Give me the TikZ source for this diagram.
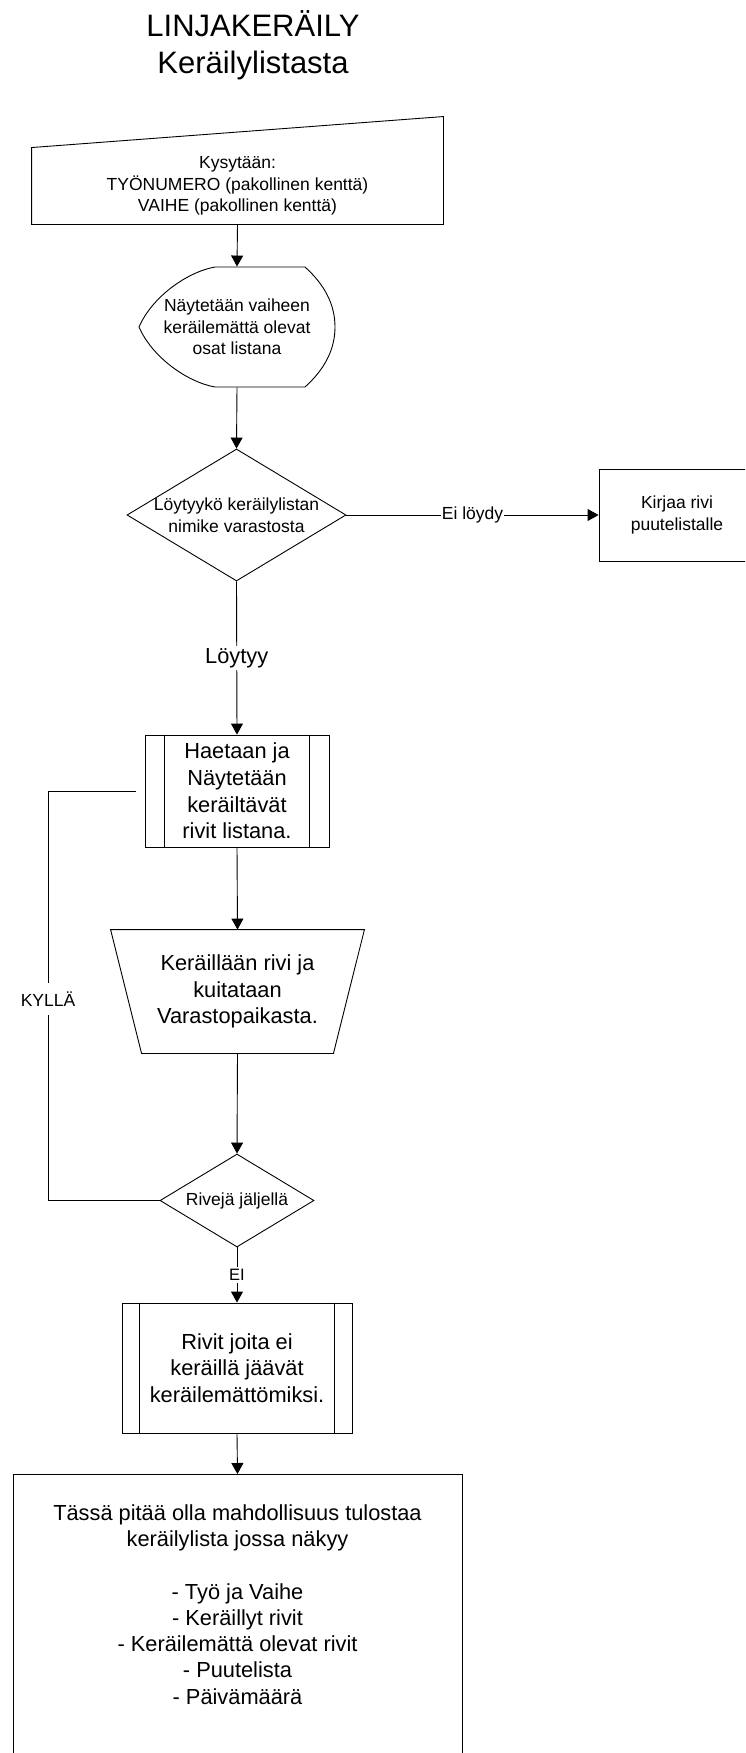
\documentclass[tikz,border=0pt]{standalone}
\usepackage{fontspec}
\setmainfont{Liberation Sans}
\usetikzlibrary{arrows.meta,shapes.geometric,calc}

\begin{document}
\begin{tikzpicture}[x=1pt,y=-1pt,
  line width=0.9pt,
  arr/.style={-{Triangle[length=11pt,width=12pt]}},
  small/.style={font=\fontsize{17.5}{21.5}\selectfont, align=center},
  big/.style={font=\fontsize{21.8}{26.6}\selectfont, align=center},
  plain/.style={inner sep=0pt},
  boxed/.style={draw, inner sep=0pt},
  decision/.style={draw, diamond, inner sep=0pt},
  tag/.style={fill=white, inner xsep=1pt, inner ysep=2pt},
]
\useasboundingbox (0,0) rectangle (745,1753);
\clip (0,0) rectangle (745,1753);

% title
\node[font=\fontsize{31}{37}\selectfont, align=center] (title) at (253,45) {LINJAKERÄILY\\Keräilylistasta};

% manual input
\node[plain, small, minimum width=411pt, minimum height=76pt] (ask) at (237.5,186)
  {Kysytään:\\TYÖNUMERO (pakollinen kenttä)\\VAIHE (pakollinen kenttä)};
\draw (ask.south west) -- (ask.south east) -- ([yshift=31pt]ask.north east) -- (ask.north west) -- cycle;

% display
\node[plain, small, minimum width=196pt, minimum height=120pt] (show) at (237,327)
  {Näytetään vaiheen\\keräilemättä olevat\\osat listana};
\draw[shift={(show.center)}] (-22,-60) -- (68,-60)
  .. controls (88,-42) and (98,-22) .. (98,0)
  .. controls (98,22) and (88,42) .. (68,60) -- (-22,60)
  .. controls (-50,55) and (-85,30) .. (-98,0)
  .. controls (-85,-30) and (-50,-55) .. (-22,-60) -- cycle;

% first decision
\node[decision, minimum width=219pt, minimum height=132pt,
  label={[small]center:Löytyykö keräilylistan\\nimike varastosta}] (found) at (236.5,515) {};

% shortage list
\node[boxed, small, minimum width=156pt, minimum height=92pt] (short) at (677,515) {Kirjaa rivi\\puutelistalle};

% fetch rows (subprocess)
\node[boxed, big, minimum width=184pt, minimum height=112pt] (fetch) at (237,791)
  {Haetaan ja\\Näytetään\\keräiltävät\\rivit listana.};
\draw ([xshift=20pt]fetch.north west) -- ([xshift=20pt]fetch.south west);
\draw ([xshift=-20pt]fetch.north east) -- ([xshift=-20pt]fetch.south east);

% manual operation
\node[plain, big, minimum width=253pt, minimum height=123pt] (pick) at (237.5,991.5)
  {Keräillään rivi ja\\kuitataan\\Varastopaikasta.};
\draw (pick.north west) -- (pick.north east) -- ([xshift=-31pt]pick.south east)
  -- ([xshift=31pt]pick.south west) -- cycle;

% second decision
\node[decision, minimum width=154pt, minimum height=93pt,
  label={[small]center:Rivejä jäljellä}] (more) at (237,1200.5) {};

% leftover rows (subprocess)
\node[boxed, big, minimum width=230pt, minimum height=130pt] (left) at (237,1368)
  {Rivit joita ei\\keräillä jäävät\\keräilemättömiksi.};
\draw ([xshift=18pt]left.north west) -- ([xshift=18pt]left.south west);
\draw ([xshift=-18pt]left.north east) -- ([xshift=-18pt]left.south east);

% print box
\node[boxed, minimum width=449pt, minimum height=320pt, anchor=north] (out) at (237.5,1474) {};
\node[font=\fontsize{21.8}{26.2}\selectfont, align=center] (outtxt) at (237.5,1604.5)
  {Tässä pitää olla mahdollisuus tulostaa\\keräilylista jossa näkyy\\~\\- Työ ja Vaihe\\- Keräillyt rivit\\- Keräilemättä olevat rivit\\- Puutelista\\- Päivämäärä};

% connectors
\draw[arr] (ask.south) -- (show.north);
\draw[arr] (show.south) -- (found.north);
\draw[arr] (found.east) -- node[tag, small] {Ei löydy} (short.west);
\draw[arr] (found.south) -- node[tag, big] {Löytyy} (fetch.north);
\draw[arr] (fetch.south) -- (pick.north);
\draw[arr] (pick.south) -- (more.north);
\draw[arr] (more.south) -- node[tag, font=\fontsize{16.5}{19}\selectfont] {EI} (left.north);
\draw[arr] (left.south) -- (out.north);

% loop back
\coordinate (rail) at (48,791);
\coordinate (back) at ($(fetch.west)+(-9,0)$);
\draw (more.west) -| (rail) -- (back);
\node[fill=white, small, inner xsep=2pt, minimum height=32pt] (yes) at (48,999) {KYLLÄ};
\end{tikzpicture}
\end{document}
